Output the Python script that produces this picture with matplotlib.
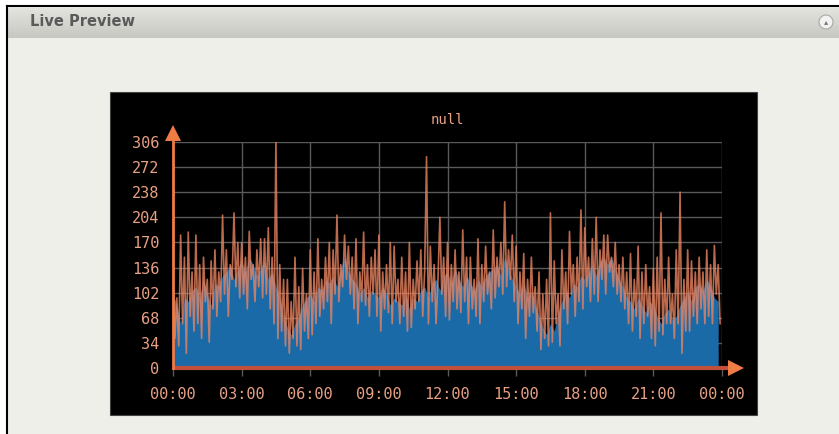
"""
Live Preview chart: 24h traffic, blue area with an orange line on top.
Saves out.png (839x434).
"""

import numpy as np
import matplotlib.pyplot as plt
from matplotlib.patches import Rectangle, Ellipse
from matplotlib.colors import LinearSegmentedColormap

# =============================================================================
# Data
# =============================================================================
TITLE = "null"
Y_TICKS = [0, 34, 68, 102, 136, 170, 204, 238, 272, 306]
X_TICKS = [0, 3, 6, 9, 12, 15, 18, 21, 24]
X_LABELS = ["00:00", "03:00", "06:00", "09:00", "12:00",
            "15:00", "18:00", "21:00", "00:00"]

# blue area, 10 minute steps
AREA_VALUES = [
    100, 85, 60, 95, 90, 105,
    110, 95, 120, 100, 85, 115,
    110, 125, 130, 140, 120, 135,
    145, 130, 150, 140, 125, 135,
    145, 120, 130, 110, 95, 70,
    55, 45, 60, 70, 85, 95,
    100, 90, 110, 105, 120, 115,
    125, 110, 135, 150, 130, 120,
    115, 100, 110, 95, 105, 100,
    95, 110, 100, 85, 95, 90,
    85, 100, 80, 95, 90, 105,
    110, 95, 115, 120, 105, 125,
    130, 115, 135, 120, 110, 125,
    115, 105, 120, 110, 125, 130,
    135, 140, 125, 150, 135, 120,
    110, 100, 115, 95, 105, 85,
    70, 55, 45, 60, 50, 75,
    90, 105, 95, 115, 110, 125,
    120, 130, 140, 125, 145, 150,
    140, 150, 135, 120, 110, 95,
    90, 80, 95, 85, 75, 90,
    85, 70, 60, 75, 80, 65,
    70, 85, 95, 105, 90, 110,
    115, 105, 120, 110, 95, 90,
]

# orange line, 5 minute steps
LINE_VALUES = [
    105, 40, 95, 30, 180, 60, 150, 20, 184, 70, 130, 50,
    180, 60, 140, 40, 150, 90, 120, 35, 145, 80, 160, 70,
    130, 90, 207, 100, 160, 70, 140, 120, 210, 110, 170, 95,
    170, 100, 150, 80, 185, 120, 140, 90, 160, 110, 175, 95,
    175, 100, 190, 80, 150, 60, 308, 40, 140, 50, 120, 30,
    120, 20, 90, 40, 150, 30, 110, 25, 135, 50, 100, 40,
    160, 45, 130, 60, 175, 70, 120, 80, 150, 90, 170, 60,
    160, 100, 207, 90, 140, 110, 180, 120, 165, 100, 150, 80,
    175, 60, 130, 90, 184, 85, 140, 70, 150, 100, 160, 70,
    180, 50, 130, 80, 140, 75, 170, 60, 165, 90, 120, 60,
    150, 70, 130, 50, 170, 55, 120, 80, 145, 90, 160, 70,
    130, 286, 60, 165, 90, 140, 60, 120, 204, 100, 150, 70,
    170, 65, 140, 90, 160, 80, 130, 75, 187, 90, 150, 60,
    150, 80, 120, 70, 175, 60, 140, 90, 165, 100, 130, 80,
    187, 95, 150, 110, 170, 100, 225, 110, 160, 120, 180, 90,
    165, 60, 130, 80, 155, 40, 120, 70, 150, 75, 110, 50,
    130, 25, 100, 40, 120, 30, 210, 35, 145, 60, 100, 30,
    160, 80, 130, 60, 185, 100, 140, 70, 150, 90, 214, 80,
    190, 110, 150, 90, 175, 100, 204, 90, 160, 120, 180, 100,
    180, 130, 150, 110, 170, 100, 140, 90, 150, 80, 130, 60,
    155, 50, 120, 70, 165, 40, 130, 60, 140, 70, 110, 40,
    135, 30, 150, 50, 210, 45, 120, 60, 150, 60, 100, 40,
    160, 60, 238, 20, 120, 50, 160, 50, 145, 70, 130, 60,
    150, 80, 130, 60, 160, 70, 140, 60, 166, 100, 140, 60,
]

# =============================================================================
# Style
# =============================================================================
W, H, DPI = 839, 434, 100

COLOR_PAGE = "#efefea"
COLOR_PANEL = "#000000"
COLOR_AREA = "#1b6aa8"
COLOR_LINE = "#ea8460"
COLOR_AXIS = "#f07c45"
COLOR_BASE = "#c0503a"
COLOR_GRID = "#5a5a5a"
COLOR_TEXT = "#e8a084"
MONO = "DejaVu Sans Mono"


def px_box(x0, y0, x1, y1):
    """pixel box (top-left origin) -> figure fraction [l, b, w, h]"""
    return [x0 / W, 1 - y1 / H, (x1 - x0) / W, (y1 - y0) / H]


def draw_page(fig):
    fig.patch.set_facecolor("white")
    l, b, w, h = px_box(7, 6, W, H)
    fig.patches.append(Rectangle((l, b), w, h, transform=fig.transFigure,
                                 facecolor=COLOR_PAGE, edgecolor="none",
                                 zorder=-10))
    # header bar with a soft gradient
    hax = fig.add_axes(px_box(8, 8, W, 38))
    hax.set_zorder(-5)
    cmap = LinearSegmentedColormap.from_list(
        "hdr", ["#e4e4e0", "#d6d6d1", "#c8c8c3"])
    grad = np.linspace(0, 1, 50).reshape(-1, 1)
    hax.imshow(grad, aspect="auto", cmap=cmap, extent=[0, 1, 0, 1])
    hax.set_axis_off()
    fig.text(30 / W, 1 - 22 / H, "Live Preview", fontsize=10.5,
             fontweight="bold", color="#5a5a5a", va="center", ha="left")
    fig.patches.append(Ellipse((826 / W, 1 - 22 / H), 14 / W, 14 / H,
                               transform=fig.transFigure, facecolor="#f2f2f0",
                               edgecolor="#a8a8a8", lw=0.8))
    fig.text(826 / W, 1 - 22 / H, "\u25b4", fontsize=6, color="#777777",
             ha="center", va="center")
    # frame lines top and left
    fig.add_artist(plt.Line2D([7 / W, 1], [1 - 6 / H] * 2, color="black", lw=1.5))
    fig.add_artist(plt.Line2D([7 / W] * 2, [0, 1 - 6 / H], color="black", lw=1.5))
    # black chart panel
    l, b, w, h = px_box(110, 92, 757, 415)
    fig.patches.append(Rectangle((l, b), w, h, transform=fig.transFigure,
                                 facecolor=COLOR_PANEL, edgecolor="#444444",
                                 lw=0.8, zorder=-9))


def draw_chart(fig):
    ax = fig.add_axes(px_box(173, 142, 722, 368))
    ax.set_facecolor("none")

    area_x = np.arange(len(AREA_VALUES)) * 24.0 / len(AREA_VALUES)
    line_x = np.arange(len(LINE_VALUES)) * 24.0 / len(LINE_VALUES)

    ax.fill_between(area_x, 0, AREA_VALUES, color=COLOR_AREA, lw=0, zorder=2)
    ax.plot(line_x, LINE_VALUES, color=COLOR_LINE, lw=1.2, alpha=0.8, zorder=3)

    ax.set_xlim(0, 24)
    ax.set_ylim(0, 306)
    ax.set_xticks(X_TICKS)
    ax.set_xticklabels(X_LABELS)
    ax.set_yticks(Y_TICKS)

    ax.grid(True, color=COLOR_GRID, lw=1.0, zorder=1)
    ax.set_axisbelow(True)
    for spine in ax.spines.values():
        spine.set_visible(False)

    ax.tick_params(axis="x", colors=COLOR_GRID, length=6, width=1,
                   pad=8, labelcolor=COLOR_TEXT, labelsize=11)
    ax.tick_params(axis="y", length=0, pad=10, labelcolor=COLOR_TEXT,
                   labelsize=11)
    for lab in ax.get_xticklabels() + ax.get_yticklabels():
        lab.set_fontfamily(MONO)

    # axes with arrow heads
    ax.plot([0, 24.3], [0, 0], color=COLOR_BASE, lw=3, zorder=4,
            clip_on=False, solid_capstyle="butt")
    ax.plot([0, 0], [0, 316], color=COLOR_AXIS, lw=2, zorder=4, clip_on=False)
    ax.plot([0], [318], marker="^", ms=12, color=COLOR_AXIS, zorder=5,
            clip_on=False, markeredgewidth=0)
    ax.plot([24.6], [0], marker=">", ms=12, color=COLOR_AXIS, zorder=5,
            clip_on=False, markeredgewidth=0)

    ax.set_title(TITLE, color=COLOR_TEXT, fontsize=10, family=MONO, pad=13)


def main():
    fig = plt.figure(figsize=(W / DPI, H / DPI), dpi=DPI)
    draw_page(fig)
    draw_chart(fig)
    fig.savefig("out.png", dpi=DPI)
    plt.close(fig)


if __name__ == "__main__":
    main()
